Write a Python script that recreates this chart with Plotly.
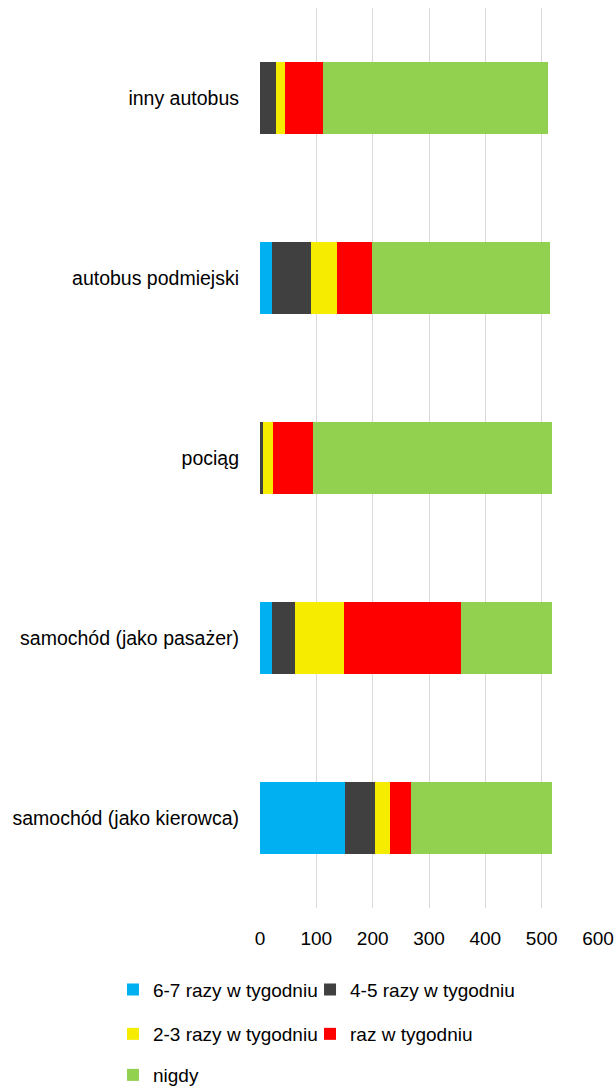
import plotly.graph_objects as go

categories = ["samochód (jako kierowca)", "samochód (jako pasażer)", "pociąg",
              "autobus podmiejski", "inny autobus"]
series_names = ["6-7 razy w tygodniu", "4-5 razy w tygodniu", "2-3 razy w tygodniu",
                "raz w tygodniu", "nigdy"]
v_6_7 = [151, 21, 0, 21, 0]
v_4_5 = [53, 41, 5, 70, 28]
v_2_3 = [26, 87, 18, 46, 16]
v_raz = [38, 208, 71, 61, 68]
v_nigdy = [251, 162, 424, 317, 400]
colors = ["#00B0F0", "#404040", "#F5EC00", "#FF0000", "#92D050"]
x_ticks = [0, 100, 200, 300, 400, 500, 600]

# one legend per entry so each can be placed like the reference (2 columns, 3 rows)
legend_ids = ["legend", "legend2", "legend3", "legend4", "legend5"]
col_x = [-0.435, 0.148]
row_y = [-0.0906, -0.14, -0.1856]
legend_pos = [(col_x[0], row_y[0]), (col_x[1], row_y[0]),
              (col_x[0], row_y[1]), (col_x[1], row_y[1]),
              (col_x[0], row_y[2])]

fig = go.Figure()
for name, vals, col, lid in zip(series_names, [v_6_7, v_4_5, v_2_3, v_raz, v_nigdy],
                                colors, legend_ids):
    fig.add_trace(go.Bar(y=categories, x=vals, name=name, orientation="h", legend=lid,
                         marker=dict(color=col, line=dict(width=0))))

legend_common = dict(xanchor="left", yanchor="middle", font=dict(size=19),
                     bgcolor="rgba(0,0,0,0)", borderwidth=0, itemwidth=30)
legends = {}
for lid, (lx, ly) in zip(legend_ids, legend_pos):
    legends[lid] = dict(x=lx, y=ly, **legend_common)

fig.update_layout(
    barmode="stack",
    bargap=0.6,
    width=615, height=1088,
    margin=dict(l=260, r=17, t=8, b=180, autoexpand=False),
    plot_bgcolor="white", paper_bgcolor="white",
    font=dict(family="Liberation Sans, Arial", size=19.5, color="#000000"),
    xaxis=dict(range=[0, 600], tickvals=x_ticks, showgrid=True, gridcolor="#D9D9D9",
               gridwidth=1.3, zeroline=False, showline=False, ticks="",
               ticklabelstandoff=17, tickfont=dict(size=19)),
    yaxis=dict(showgrid=False, zeroline=False, showline=False, ticks="",
               ticklabelstandoff=20, tickfont=dict(size=19.5)),
    showlegend=True,
    **legends,
)

fig.write_html("out.html",
               config={"displayModeBar": False},
               post_script="document.body.style.margin='0px';"
                           "document.body.style.overflow='hidden';")
